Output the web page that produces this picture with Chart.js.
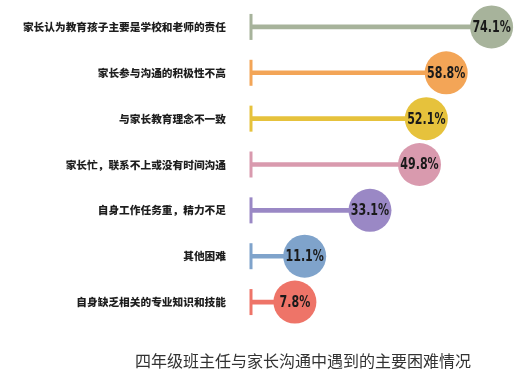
<!DOCTYPE html>
<html>
<head>
<meta charset="utf-8">
<script src="https://cdn.jsdelivr.net/npm/chart.js@4"></script>
<style>
  body { margin: 0; background: #ffffff; }
  #wrap { width: 528px; height: 383px; position: relative; }
</style>
</head>
<body>
<div id="wrap"><canvas id="difficulties"></canvas></div>
<script>
var categories = [
    "家长认为教育孩子主要是学校和老师的责任",
    "家长参与沟通的积极性不高",
    "与家长教育理念不一致",
    "家长忙，联系不上或没有时间沟通",
    "自身工作任务重，精力不足",
    "其他困难",
    "自身缺乏相关的专业知识和技能"
];
var percents = [74.1, 58.8, 52.1, 49.8, 33.1, 11.1, 7.8];
var colors = ["#a7b39b", "#f3a557", "#e6c23c", "#d99aae", "#9a88c5", "#7fa3cb", "#ee7468"];
var chartTitle = "四年级班主任与家长沟通中遇到的主要困难情况";
var axisStart = -7;

document.addEventListener("DOMContentLoaded", function() {
    var ctx = document.getElementById("difficulties").getContext("2d");

    var lollipopPlugin = {
        id: "lollipop",
        beforeDatasetsDraw: function(chart) {
            var c = chart.ctx;
            var x = chart.scales.x.getPixelForValue(axisStart);
            c.save();
            for (var i = 0; i < categories.length; i++) {
                var y = chart.scales.y.getPixelForValue(i);
                c.strokeStyle = colors[i];
                c.lineWidth = 3;
                c.beginPath();
                c.moveTo(x, y - 13);
                c.lineTo(x, y + 13);
                c.stroke();
            }
            c.restore();
        },
        afterDatasetsDraw: function(chart) {
            var c = chart.ctx;
            var meta = chart.getDatasetMeta(1);
            c.save();
            c.fillStyle = "#1a1a1a";
            c.font = "bold 15px 'DejaVu Sans Condensed', 'Liberation Sans Narrow', sans-serif";
            c.textAlign = "center";
            c.textBaseline = "middle";
            meta.data.forEach(function(pt, i) {
                // squeeze the label a bit, the original uses a narrow face
                c.save();
                c.translate(pt.x, pt.y + 1);
                c.scale(0.82, 1);
                c.fillText(percents[i].toFixed(1) + "%", 0, 0);
                c.restore();
            });
            c.fillStyle = "#333333";
            c.font = "16px 'Noto Sans CJK SC', sans-serif";
            c.fillText(chartTitle, 303, 361);
            c.restore();
        }
    };

    var data = {
        labels: categories,
        datasets: [
            {
                type: "bar",
                data: percents,
                base: axisStart,
                backgroundColor: colors,
                barThickness: 4,
                borderWidth: 0
            },
            {
                type: "line",
                indexAxis: "y",
                data: percents,
                showLine: false,
                pointRadius: 21.5,
                pointHoverRadius: 21.5,
                pointBackgroundColor: colors,
                pointBorderColor: colors,
                pointBorderWidth: 0
            }
        ]
    };

    var options = {
        indexAxis: "y",
        responsive: true,
        maintainAspectRatio: false,
        animation: false,
        layout: {
            autoPadding: false,
            padding: { top: 4, right: 10, bottom: 58, left: 0 }
        },
        plugins: {
            legend: { display: false },
            tooltip: { enabled: false }
        },
        scales: {
            x: {
                display: false,
                min: axisStart,
                max: 83
            },
            y: {
                grid: { display: false },
                border: { display: false },
                afterFit: function(scale) {
                    scale.width = 251;
                    // tick padding is also added above/below the axis, drop that
                    scale.paddingTop = 0;
                    scale.paddingBottom = 0;
                },
                ticks: {
                    padding: 17,
                    color: "#1e1e1e",
                    font: { family: "'Noto Sans CJK SC', sans-serif", size: 10.7, weight: "900" }
                }
            }
        }
    };

    new Chart(ctx, {
        type: "bar",
        data: data,
        options: options,
        plugins: [lollipopPlugin]
    });
});
</script>
</body>
</html>
